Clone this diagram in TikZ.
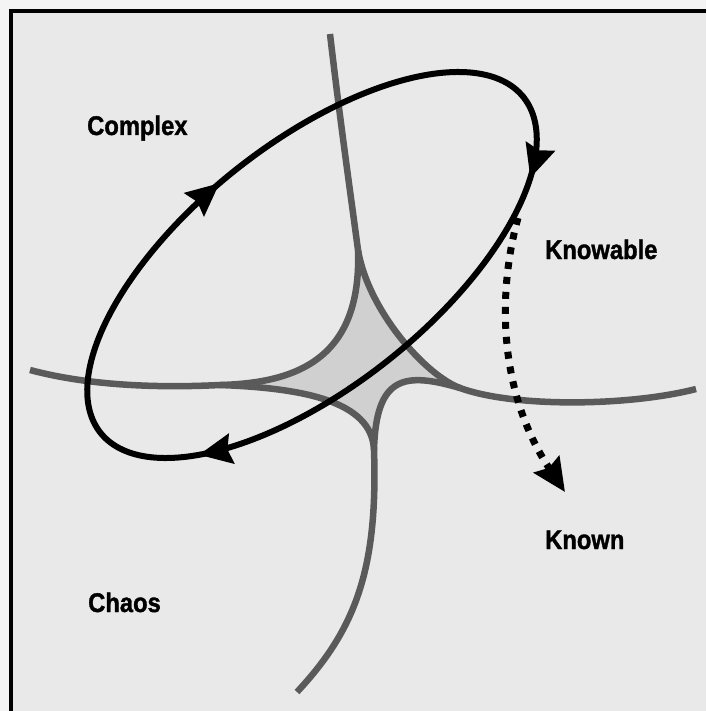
\documentclass[tikz,border=0pt]{standalone}
\usepackage{fontspec}
\setmainfont{Liberation Sans}[FakeStretch=0.88,BoldFeatures={FakeBold=1.3}]
\usetikzlibrary{arrows.meta,decorations.markings}
\definecolor{bg}{HTML}{E9E9E9}
\definecolor{outerbg}{HTML}{F4F4F4}
\definecolor{gline}{HTML}{5A5A5A}
\definecolor{core}{HTML}{D0D0D0}
\tikzset{
  gl/.style={draw=gline,line width=6.5pt,line cap=butt},
  bigtip/.style={-{Stealth[length=33pt,width=30pt,inset=4pt]}},
  lbl/.style={font=\fontsize{27}{30}\selectfont\bfseries,inner sep=0pt,anchor=base west},
}
\begin{document}
\begin{tikzpicture}[x=1pt,y=-1pt]
\useasboundingbox (0,0) rectangle (706,711);
\fill[outerbg] (0,0) rectangle (706,711);
\fill[bg] (10.7,11) rectangle (706,711);
\draw[line width=4pt] (10.7,711) -- (10.7,11) -- (706,11);
% junctions
\coordinate (T0) at (330,34);
\coordinate (TJ) at (358,250);
\coordinate (L0) at (30,370);
\coordinate (LJ) at (220,385);
\coordinate (R0) at (696,389);
\coordinate (RJ) at (460,388);
\coordinate (B0) at (297,692);
\coordinate (BJ) at (374,450);
% core
\fill[core] (LJ) .. controls (295,383) and (362,360) .. (TJ)
  .. controls (368,310) and (425,375) .. (RJ)
  .. controls (405,372) and (376,375) .. (BJ)
  .. controls (372,400) and (300,388) .. (LJ) -- cycle;
% gray boundaries
\draw[gl] (T0) .. controls (340,120) and (350,190) .. (TJ);
\draw[gl] (TJ) .. controls (362,360) and (295,383) .. (LJ);
\draw[gl] (TJ) .. controls (368,310) and (425,375) .. (RJ);
\draw[gl] (RJ) .. controls (405,372) and (376,375) .. (BJ);
\draw[gl] (BJ) .. controls (372,400) and (300,388) .. (LJ);
\draw[gl] (L0) .. controls (90,386) and (160,388) .. (LJ);
\draw[gl] (RJ) .. controls (515,408) and (630,406) .. (R0);
\draw[gl] (BJ) .. controls (378,570) and (355,630) .. (B0);
% cycle ellipse
\draw[line width=6pt,
  postaction={decorate,decoration={markings,
    mark=at position 0.066 with {\arrow{Stealth[length=33pt,width=30pt,inset=4pt]}},
    mark=at position 0.417 with {\arrow{Stealth[length=33pt,width=30pt,inset=4pt]}},
    mark=at position 0.733 with {\arrow{Stealth[length=33pt,width=30pt,inset=4pt]}}}}]
  plot[domain=0:360,samples=240,variable=\t]
  ({312+270*cos(\t)*0.7838+122*sin(\t)*0.6210},{265-270*cos(\t)*0.6210+122*sin(\t)*0.7838}) -- cycle;
% dotted arrow
\coordinate (D0) at (518,218);
\coordinate (D1) at (565,492);
\draw[line width=7pt,dash pattern=on 7pt off 8pt,bigtip] (D0) .. controls (498,290) and (497,390) .. (D1);
% labels
\node[lbl] (complex) at (87,135) {Complex};
\node[lbl] (knowable) at (545,259) {Knowable};
\node[lbl] (known) at (545,549) {Known};
\node[lbl] (chaos) at (88,612) {Chaos};
\end{tikzpicture}
\end{document}
